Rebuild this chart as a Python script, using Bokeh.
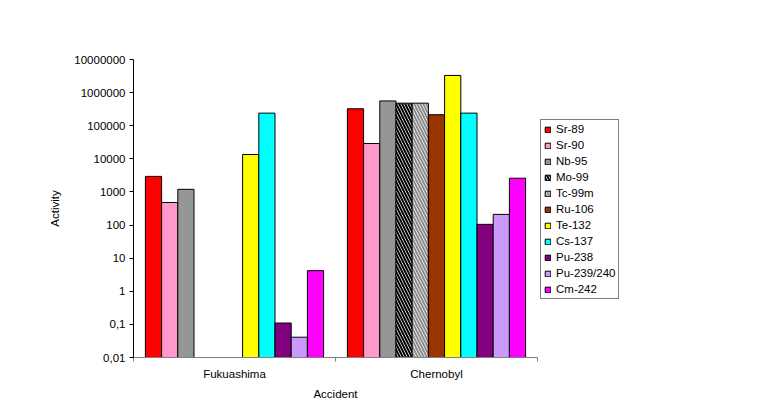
from bokeh.plotting import figure
from bokeh.models import Range1d, FixedTicker, CustomJSTickFormatter, Legend, LegendItem, ColumnDataSource
from bokeh.embed import file_html
from bokeh.resources import INLINE

accidents = ["Fukuashima", "Chernobyl"]
isotopes = ["Sr-89", "Sr-90", "Nb-95", "Mo-99", "Tc-99m", "Ru-106", "Te-132",
            "Cs-137", "Pu-238", "Pu-239/240", "Cm-242"]
fukushima = [2950, 480, 1200, None, None, None, 13500, 240000, 0.11, 0.041, 4.2]
chernobyl = [325000, 29000, 560000, 480000, 480000, 215000, 3300000, 240000, 105, 210, 2600]
y_ticks = [0.01, 0.1, 1, 10, 100, 1000, 10000, 100000, 1000000, 10000000]

colors = ["#FF0000", "#FF99CC", "#969696", "#FFFFFF", "#FFFFFF", "#993300",
          "#FFFF00", "#00FFFF", "#800080", "#CC99FF", "#FF00FF"]
hatches = [None, None, None, "left_diagonal_line", "left_diagonal_line",
           None, None, None, None, None, None]
hatch_colors = ["black"] * 11
hatch_colors[4] = "#8C8C8C"

FONT = "Liberation Sans"
FS = "11.5px"

p = figure(frame_width=404, frame_height=298, output_backend="svg", toolbar_location=None,
           y_axis_type="log", x_range=Range1d(0, 2), y_range=Range1d(0.01, 1e7),
           min_border_left=133, min_border_right=219, min_border_top=59, min_border_bottom=54)
p.outline_line_color = None
p.xgrid.visible = False
p.ygrid.visible = False

bw = 0.0802
items = []
for i, iso in enumerate(isotopes):
    off = (i - 5) * bw
    xs, tops = [], []
    for j, vals in enumerate([fukushima, chernobyl]):
        v = vals[i]
        xs.append(j + 0.5 + off)
        tops.append(v if v is not None else float("nan"))
    src = ColumnDataSource(dict(x=xs, top=tops, bottom=[0.01, 0.01]))
    kw = {}
    if hatches[i]:
        kw = dict(hatch_pattern=hatches[i], hatch_color=hatch_colors[i],
                  hatch_scale=6, hatch_weight=2)
    r = p.vbar(x="x", top="top", bottom="bottom", width=bw, source=src,
               fill_color=colors[i], line_color="black", line_width=1, **kw)
    items.append(LegendItem(label=iso, renderers=[r]))

legend = Legend(items=items, location=(3, 58), border_line_color="black",
                border_line_width=1, padding=3, margin=0, spacing=4,
                label_height=12, glyph_height=7, glyph_width=7, label_standoff=5,
                label_text_font=FONT, label_text_font_size=FS, label_text_color="black",
                background_fill_color="white", background_fill_alpha=1)
p.add_layout(legend, "right")

# x axis
p.xaxis.ticker = FixedTicker(ticks=[0.5, 1.5], minor_ticks=[0, 1, 2])
p.xaxis.major_label_overrides = {0.5: accidents[0], 1.5: accidents[1]}
p.xaxis.major_tick_line_color = None
p.xaxis.minor_tick_line_color = "#808080"
p.xaxis.minor_tick_out = 4
p.xaxis.minor_tick_in = 0
p.xaxis.axis_line_color = "#808080"
p.xaxis.axis_label = "Accident"
p.xaxis.major_label_standoff = 4
p.xaxis.axis_label_standoff = 5

# y axis
p.yaxis.ticker = FixedTicker(ticks=y_ticks, minor_ticks=[])
p.yaxis.formatter = CustomJSTickFormatter(code="""
if (tick < 1) { return tick.toPrecision(1).replace('.', ','); }
return Math.round(tick).toString();
""")
p.yaxis.major_tick_out = 4
p.yaxis.major_tick_in = 0
p.yaxis.minor_tick_line_color = None
p.yaxis.axis_line_color = "black"
p.yaxis.major_tick_line_color = "black"
p.yaxis.axis_label = "Activity"
p.yaxis.major_label_standoff = 4
p.yaxis.axis_label_standoff = 10

for ax in [p.xaxis, p.yaxis]:
    ax.major_label_text_font = FONT
    ax.major_label_text_font_size = FS
    ax.major_label_text_color = "black"
    ax.axis_label_text_font = FONT
    ax.axis_label_text_font_size = FS
    ax.axis_label_text_font_style = "normal"
    ax.axis_label_text_color = "black"

open("out.html", "w").write(file_html(p, INLINE))
